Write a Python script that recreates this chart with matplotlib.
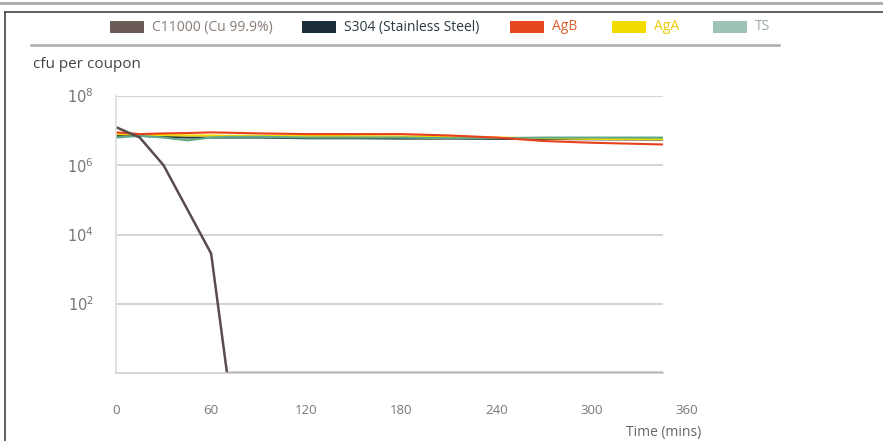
import matplotlib.pyplot as plt
import numpy as np
from matplotlib.lines import Line2D
from matplotlib.patches import Rectangle

plt.rcParams['font.family'] = ['Open Sans', 'DejaVu Sans']

# time points (mins)
times = [0, 15, 30, 45, 60, 70, 90, 120, 150, 180, 210, 240, 270, 300, 345]
cu_times = [0, 15, 30, 60, 70, 345]

# log10 cfu per coupon
cu_log = [7.1, 6.8, 6.0, 3.45, 0.0, 0.0]
s304_log = [6.85, 6.85, 6.82, 6.8, 6.8, 6.8, 6.8, 6.78, 6.78, 6.77, 6.77, 6.76, 6.76, 6.75, 6.74]
agb_log = [6.95, 6.9, 6.92, 6.93, 6.95, 6.94, 6.92, 6.9, 6.9, 6.9, 6.86, 6.8, 6.7, 6.65, 6.6]
aga_log = [6.9, 6.88, 6.87, 6.86, 6.86, 6.85, 6.85, 6.85, 6.84, 6.83, 6.83, 6.8, 6.78, 6.76, 6.75]
ts_log = [6.8, 6.85, 6.8, 6.72, 6.8, 6.82, 6.82, 6.8, 6.8, 6.8, 6.78, 6.78, 6.8, 6.8, 6.8]

labels = ["C11000 (Cu 99.9%)", "S304 (Stainless Steel)", "AgB", "AgA", "TS"]
colors = ["#6a5a58", "#1b2d38", "#e8461c", "#f2dc00", "#9fc2b6"]
text_colors = ["#8a7a76", "#2a3a44", "#e0602a", "#e8cc00", "#9aaaa6"]
line_colors = ["#5a4c4c", "#24343e", "#e8401a", "#f0d800", "#5fa88a"]

xtick_vals = [0, 60, 120, 180, 240, 300, 360]
ytick_vals = [1e2, 1e4, 1e6, 1e8]

W, H = 883, 441
fig = plt.figure(figsize=(W / 100, H / 100), dpi=100)
ax = fig.add_axes([116 / W, 1 - 373 / H, (663 - 116) / W, (373 - 96) / H])

series = [(times, s304_log), (times, aga_log), (times, ts_log), (times, agb_log)]
order = [1, 3, 4, 2]
for (t, v), i in zip(series, order):
    ax.plot(t, 10 ** np.array(v), color=line_colors[i], lw=1.5, solid_capstyle='butt')
ax.plot(cu_times, 10 ** np.array(cu_log), color=line_colors[0], lw=1.8)

ax.set_yscale('log')
ax.set_xlim(0, 345)
ax.set_ylim(1, 1e8)
ax.set_yticks(ytick_vals)
ax.set_yticklabels([r"$10^{%d}$" % int(np.log10(v)) for v in ytick_vals])
ax.minorticks_off()
ax.tick_params(axis='y', length=0, pad=16, labelsize=10.5, labelcolor='#777777')
ax.set_xticks([])
for v in xtick_vals:
    ax.text(v, -0.135, str(v), transform=ax.get_xaxis_transform(), ha='center', va='center',
            fontsize=9.5, color='#777777', clip_on=False)
ax.grid(axis='y', color='#cccccc', lw=1.2)
ax.set_axisbelow(True)
for s in ['top', 'right']:
    ax.spines[s].set_visible(False)
ax.spines['left'].set_color('#dddddd')
ax.spines['bottom'].set_color('#cccccc')
ax.spines['left'].set_linewidth(1.2)
ax.spines['bottom'].set_linewidth(1.2)

ax.text(1.07, -0.213, "Time (mins)", transform=ax.transAxes, ha='right', va='center',
        fontsize=10, color='#666666')
fig.text(33 / W, 1 - 64 / H, "cfu per coupon", ha='left', va='center', fontsize=11, color='#444444')

# frame lines
fig.add_artist(Line2D([0, 1], [1 - 3 / H, 1 - 3 / H], color='#aaaaaa', lw=2, transform=fig.transFigure))
fig.add_artist(Line2D([5 / W, 1], [1 - 12 / H, 1 - 12 / H], color='#444444', lw=1.2, transform=fig.transFigure))
fig.add_artist(Line2D([5 / W, 5 / W], [0, 1 - 12 / H], color='#444444', lw=1.2, transform=fig.transFigure))
fig.add_artist(Line2D([31 / W, 779 / W], [1 - 45 / H, 1 - 45 / H], color='#aaaaaa', lw=1.8, transform=fig.transFigure))

# legend row
swatch_x = [110, 302, 510, 612, 713]
for x0, lab, c, tc in zip(swatch_x, labels, colors, text_colors):
    fig.add_artist(Rectangle((x0 / W, 1 - 33 / H), 34 / W, 12 / H, facecolor=c, edgecolor='none',
                             transform=fig.transFigure))
    fig.text((x0 + 42) / W, 1 - 27 / H, lab, ha='left', va='center', fontsize=10, color=tc)

fig.savefig("out.png", dpi=100)
